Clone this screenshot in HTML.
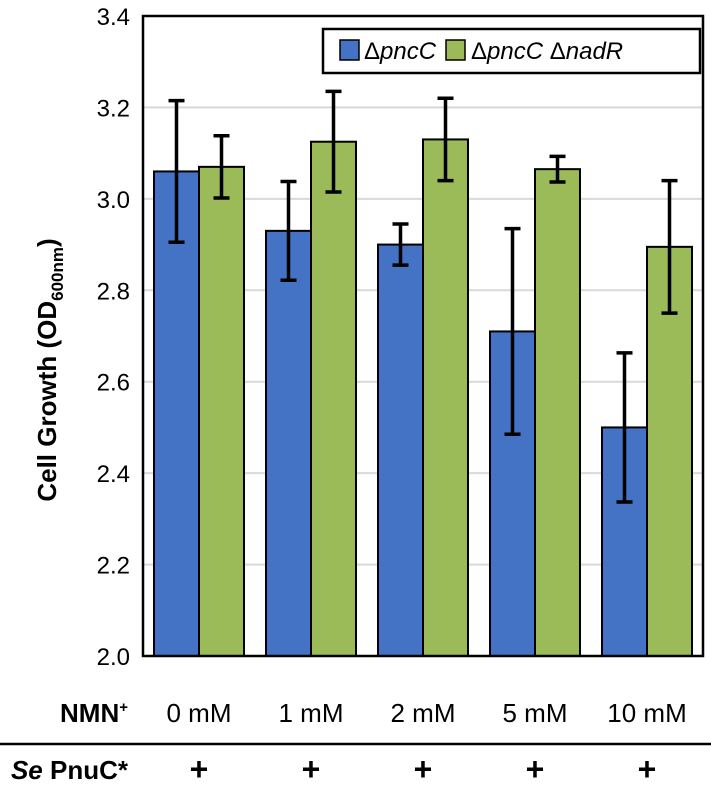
<!DOCTYPE html>
<html><head><meta charset="utf-8"><style>
body{margin:0;background:#fff;font-family:"Liberation Sans",sans-serif;}
</style></head><body>
<svg width="711" height="795" viewBox="0 0 711 795" xmlns="http://www.w3.org/2000/svg" font-family="Liberation Sans, sans-serif">
<g id="grid"></g><g id="bars"></g><g id="yt"></g>
<rect x="143" y="16" width="560" height="640" fill="none" stroke="#000" stroke-width="2.5"/>
<g>
<rect x="323" y="29" width="377" height="44" fill="#fff" stroke="#000" stroke-width="2.5"/>
<rect x="340" y="40" width="19" height="20" fill="#4472c4" stroke="#000" stroke-width="1.5"/>
<text x="364" y="59" font-size="24">Δ<tspan font-style="italic">pncC</tspan></text>
<rect x="446" y="40" width="19" height="20" fill="#9bbb59" stroke="#000" stroke-width="1.5"/>
<text x="471" y="59" font-size="24">Δ<tspan font-style="italic">pncC</tspan> Δ<tspan font-style="italic">nadR</tspan></text>
</g>
<text transform="translate(56,370) rotate(-90)" text-anchor="middle" font-size="26" font-weight="bold">Cell Growth (OD<tspan font-size="17" dy="7">600nm</tspan><tspan dy="-7">)</tspan></text>
<text x="128" y="722" text-anchor="end" font-size="26" font-weight="bold">NMN<tspan font-size="15" dy="-10">+</tspan></text>
<line x1="0" y1="744" x2="711" y2="744" stroke="#000" stroke-width="2.5"/>
<text x="128" y="779" text-anchor="end" font-size="26" font-weight="bold"><tspan font-style="italic">Se</tspan> PnuC*</text>
<g id="xl"></g>
</svg>
<script>
const categories=["0 mM","1 mM","2 mM","5 mM","10 mM"];
const blueVals=[3.06,2.93,2.90,2.71,2.50];
const blueErr=[0.155,0.108,0.045,0.225,0.163];
const greenVals=[3.07,3.125,3.13,3.065,2.895];
const greenErr=[0.068,0.11,0.09,0.028,0.145];
const yTicks=[2.0,2.2,2.4,2.6,2.8,3.0,3.2,3.4];
const NS="http://www.w3.org/2000/svg";
const y=v=>656-(v-2.0)/1.4*640;
const gx=i=>143+560/5*(i+0.5);
function mk(t,a,p){const e=document.createElementNS(NS,t);for(const k in a)e.setAttribute(k,a[k]);document.getElementById(p).appendChild(e);return e;}
yTicks.forEach(v=>{
 if(v>2.0&&v<3.4){const l=mk('line',{x1:143,x2:703,y1:y(v),y2:y(v),stroke:'#d9d9d9','stroke-width':2},'grid');
 
 }
 const t=mk('text',{x:130,y:y(v)+9,'text-anchor':'end','font-size':24},'yt');t.textContent=v.toFixed(1);
 
 
});
const bw=45;
function series(vals,errs,off,col,name){
 vals.forEach((v,i)=>{
  const x=gx(i)+off;
  const r=mk('rect',{x:x,y:y(v),width:bw,height:656-y(v),fill:col,stroke:'#000','stroke-width':2},'bars');
  
  
  const cx=x+bw/2,t=y(v+errs[i]),b=y(v-errs[i]);
  const g=mk('path',{d:`M${cx},${t}V${b}M${cx-8},${t}H${cx+8}M${cx-8},${b}H${cx+8}`,stroke:'#000','stroke-width':3.5,fill:'none'},'bars');
  
  
 });
}
series(blueVals,blueErr,-bw,'#4472c4','pncc');
series(greenVals,greenErr,0,'#9bbb59','pncc-nadr');
categories.forEach((c,i)=>{
 const t=mk('text',{x:gx(i),y:722,'text-anchor':'middle','font-size':26},'xl');t.textContent=c;
 
 
 const p=mk('text',{x:gx(i),y:780,'text-anchor':'middle','font-size':32,'font-weight':'bold'},'xl');p.textContent='+';
 
 
});
</script>
</body></html>
